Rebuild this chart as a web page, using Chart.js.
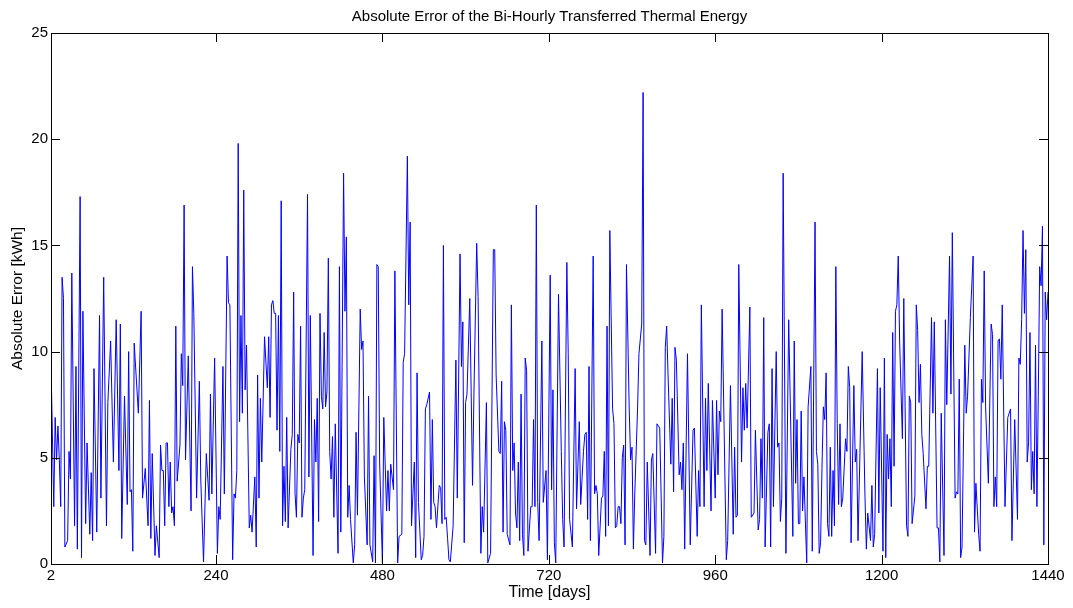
<!DOCTYPE html>
<html>
<head>
<meta charset="utf-8">
<title>Absolute Error of the Bi-Hourly Transferred Thermal Energy</title>
<script src="https://cdn.jsdelivr.net/npm/chart.js@4.4.1/dist/chart.umd.min.js"></script>
<style>
  html, body { margin: 0; padding: 0; background: #fff; }
  #wrap { width: 1073px; height: 608px; }
</style>
</head>
<body>
<div id="wrap"><canvas id="errChart" width="1073" height="608"></canvas></div>
<script>
const chartTitle = 'Absolute Error of the Bi-Hourly Transferred Thermal Energy';
const xLabel = 'Time [days]';
const yLabel = 'Absolute Error [kWh]';

const xTicks = [2, 240, 480, 720, 960, 1200, 1440];
const yTicks = [0, 5, 10, 15, 20, 25];

// time stamps (days), one line per stretch of the record
const days = [
  2, 6, 8, 10, 12, 14, 16, 18, 20, 22, 26, 28, 30, 32, 36, 38, 40, 44, 46, 48, 52, 54, 58, 60, 62, 64, 68, 72, 74, 78, 82, 84, 88, 92, 96, 100, 102, 104, 108, 112, 114, 116, 118, 120, 122, 128,
  132, 134, 138, 142, 144, 146, 148, 152, 154, 158, 160, 162, 164, 166, 168, 170, 172, 174, 176, 178, 180, 182, 184, 188, 190, 192, 194, 196, 200, 204, 206, 208, 212, 216, 218, 222, 226, 230, 232, 234, 238, 242, 244, 246, 250, 252, 256, 258, 260,
  264, 266, 268, 270, 272, 274, 276, 278, 280, 282, 284, 288, 290, 292, 296, 298, 300, 302, 304, 306, 310, 314, 316, 318, 320, 322, 324, 326, 328, 330, 332, 334, 336, 338, 340, 342, 344, 348, 350, 352, 354, 356, 358, 360, 362, 364, 366, 368, 372, 374, 376, 380, 382, 384, 386, 388, 390,
  392, 394, 396, 398, 400, 402, 404, 406, 408, 410, 412, 416, 418, 420, 424, 426, 428, 430, 432, 434, 438, 440, 442, 444, 448, 450, 452, 454, 458, 460, 462, 466, 468, 470, 472, 474, 476, 480, 482, 486, 488, 490, 492, 496, 498, 502, 504, 508, 510, 512, 516, 518, 520,
  522, 526, 528, 530, 532, 536, 538, 540, 542, 544, 548, 550, 552, 554, 556, 558, 562, 564, 566, 568, 570, 572, 574, 576, 578, 582, 586, 588, 592, 594, 596, 598, 600, 602, 606, 610, 612, 616, 618, 622, 624, 626, 630, 632, 636, 640, 642, 644, 648,
  650, 652, 654, 656, 658, 660, 664, 666, 668, 670, 672, 674, 676, 678, 680, 682, 684, 686, 688, 690, 694, 696, 698, 700, 702, 704, 706, 710, 712, 716, 718, 722, 724, 726, 728, 730, 734, 738, 740, 742, 746, 748, 750, 754, 758, 760, 764, 766, 770, 772, 774, 776, 778,
  780, 784, 786, 788, 790, 792, 796, 798, 800, 802, 804, 806, 808, 812, 814, 816, 818, 820, 822, 824, 826, 828, 830, 832, 836, 838, 840, 842, 844, 848, 850, 854, 856, 858, 860, 862, 866, 868, 870, 874, 876, 880, 884, 886, 888, 890, 892, 896, 898, 900, 902, 904, 908,
  910, 912, 914, 916, 920, 924, 928, 930, 934, 936, 938, 940, 944, 946, 948, 950, 954, 956, 960, 962, 964, 966, 968, 970, 976, 978, 982, 986, 988, 990, 992, 994, 998, 1000, 1002, 1004, 1006, 1010, 1012, 1016, 1018, 1022, 1024, 1026, 1028, 1030, 1032, 1036, 1038,
  1040, 1042, 1044, 1048, 1050, 1052, 1054, 1056, 1058, 1062, 1066, 1072, 1074, 1076, 1078, 1080, 1082, 1084, 1086, 1088, 1092, 1094, 1098, 1100, 1104, 1106, 1108, 1110, 1112, 1114, 1116, 1118, 1120, 1122, 1124, 1126, 1128, 1130, 1132, 1134, 1136, 1138, 1140, 1142, 1144, 1148, 1150, 1152, 1154, 1156, 1160, 1162, 1164, 1166,
  1172, 1176, 1178, 1180, 1184, 1186, 1188, 1190, 1194, 1196, 1198, 1202, 1204, 1206, 1208, 1210, 1212, 1214, 1216, 1218, 1220, 1222, 1224, 1226, 1230, 1232, 1236, 1238, 1240, 1242, 1244, 1248, 1250, 1252, 1254, 1256, 1258, 1260, 1264, 1266, 1268, 1272, 1274, 1276, 1280, 1282, 1284, 1286, 1290, 1292, 1294, 1298,
  1300, 1302, 1306, 1308, 1310, 1312, 1314, 1316, 1320, 1322, 1324, 1328, 1332, 1334, 1336, 1340, 1342, 1344, 1346, 1348, 1350, 1354, 1358, 1360, 1362, 1364, 1366, 1368, 1370, 1372, 1374, 1378, 1382, 1386, 1388, 1392, 1396, 1398, 1400, 1402, 1404, 1406, 1408, 1410, 1412, 1414, 1416, 1418, 1420, 1422, 1424, 1426, 1428, 1430, 1432, 1434, 1436, 1438, 1440
];

// absolute error in kWh, same order as days
const absErr = [
  9.5, 2.7, 6.9, 4.9, 6.5, 4.9, 2.7, 13.5, 12.5, 0.8, 1.1, 5.3, 4.0, 13.7, 1.8, 9.3, 0.7, 17.3, 0.3, 11.9, 1.9, 5.7, 1.4, 4.3, 1.1, 9.2, 1.5, 11.7, 3.1, 13.5, 1.8, 7.6, 10.5, 4.8, 11.5, 4.4, 11.3, 1.2, 7.9, 2.8, 10.0, 3.4, 3.5, 0.6, 10.4, 7.1,
  11.9, 3.1, 4.5, 1.8, 7.7, 1.2, 5.2, 0.4, 1.8, 0.3, 5.6, 4.4, 4.4, 1.8, 5.7, 5.7, 2.7, 4.8, 2.4, 2.7, 1.8, 11.2, 3.9, 5.6, 9.9, 8.4, 16.9, 4.9, 9.8, 2.5, 14.0, 11.8, 3.1, 8.6, 4.0, 0.1, 5.2, 3.0, 8.0, 3.3, 9.7, 0.5, 2.7, 2.1, 9.3, 3.3, 14.5, 12.3, 12.2,
  0.2, 3.3, 3.1, 4.4, 19.8, 6.7, 11.7, 7.1, 17.6, 8.2, 10.3, 1.7, 2.3, 1.5, 4.1, 0.8, 8.9, 3.1, 7.8, 4.8, 10.7, 8.3, 10.7, 6.9, 12.2, 12.4, 11.8, 11.8, 6.3, 11.7, 5.3, 17.1, 1.8, 4.6, 2.0, 6.9, 1.7, 5.4, 6.1, 12.8, 3.3, 2.2, 6.1, 5.7, 11.2, 2.2, 3.1, 3.5, 17.4, 4.1, 11.7, 0.4, 6.8, 4.8, 7.8, 2.0, 11.8,
  7.9, 7.3, 10.9, 7.4, 8.1, 14.4, 5.3, 4.0, 6.0, 2.2, 6.6, 0.5, 14.0, 1.5, 18.4, 11.9, 15.4, 2.2, 3.7, 2.1, 0.05, 0.9, 6.2, 2.3, 12.0, 10.1, 10.5, 4.1, 0.9, 7.9, 0.9, 0.1, 5.1, 0.05, 14.1, 14.0, 4.8, 0.05, 6.9, 2.5, 4.4, 2.5, 4.7, 3.5, 13.8, 0.05, 1.3, 1.4, 9.5, 9.9, 19.2, 12.2, 16.1,
  1.8, 4.8, 0.3, 9.0, 2.9, 0.2, 0.4, 1.3, 7.3, 7.5, 8.1, 2.1, 6.8, 2.9, 2.7, 1.7, 3.7, 3.6, 1.9, 15.0, 2.1, 2.2, 1.2, 0.2, 0.1, 1.8, 9.6, 3.1, 14.6, 9.3, 11.4, 1.0, 7.6, 8.0, 12.5, 3.7, 8.0, 15.1, 12.6, 0.5, 2.7, 1.5, 7.6, 0.05, 0.5, 14.8, 14.8, 8.9, 5.3,
  5.2, 8.6, 1.5, 6.7, 6.3, 1.4, 0.9, 12.2, 4.4, 5.7, 2.4, 1.7, 4.8, 1.1, 8.0, 1.4, 0.4, 9.7, 9.1, 0.6, 2.7, 2.7, 6.8, 2.7, 16.9, 2.9, 1.1, 10.5, 2.9, 4.4, 0.2, 13.6, 3.5, 8.2, 1.0, 0.05, 12.7, 5.3, 2.1, 0.8, 14.2, 9.9, 2.1, 0.8, 9.2, 2.6, 6.7, 2.8, 5.3, 6.1, 6.2, 2.1, 9.3,
  1.1, 14.5, 3.3, 3.7, 3.3, 0.4, 3.1, 3.2, 5.3, 1.3, 11.2, 1.8, 15.7, 7.3, 6.6, 1.7, 1.8, 2.7, 2.7, 1.9, 5.0, 5.6, 0.9, 14.1, 7.3, 4.9, 5.5, 0.7, 3.3, 7.3, 9.9, 11.3, 22.2, 1.1, 0.9, 4.8, 0.4, 4.9, 5.2, 0.5, 6.6, 6.4, 0.05, 1.3, 10.2, 11.2, 8.9, 4.7, 7.8, 3.4, 10.2, 9.6, 4.2,
  4.8, 3.5, 5.7, 0.7, 9.9, 0.9, 6.3, 6.4, 1.3, 4.4, 2.7, 12.2, 2.7, 7.8, 4.4, 8.5, 2.5, 7.7, 3.1, 7.7, 4.2, 7.2, 6.7, 12.0, 0.2, 1.1, 8.4, 1.4, 5.5, 2.2, 2.3, 14.1, 4.8, 8.3, 6.3, 8.5, 6.4, 12.1, 2.2, 2.4, 6.3, 1.6, 2.1, 5.9, 3.1, 11.6, 0.8, 6.2, 6.6,
  0.8, 9.2, 2.7, 10.0, 5.5, 5.7, 2.0, 3.1, 18.4, 0.5, 11.5, 1.3, 10.5, 3.8, 6.8, 1.9, 1.9, 7.2, 2.5, 4.1, 0.05, 7.4, 9.3, 0.6, 16.1, 5.3, 4.7, 0.5, 1.0, 4.5, 7.4, 6.8, 9.0, 1.9, 1.3, 5.5, 1.3, 4.4, 1.8, 14.0, 6.6, 2.8, 6.6, 2.7, 3.1, 5.9, 5.3, 9.3, 8.3, 1.0, 8.4, 4.8, 5.4, 1.1,
  10.0, 3.2, 0.7, 2.4, 1.1, 3.7, 0.8, 1.4, 9.2, 2.4, 8.3, 0.6, 9.7, 0.3, 6.1, 4.0, 5.9, 2.7, 10.9, 4.6, 11.9, 12.2, 14.5, 10.5, 5.9, 12.5, 1.8, 1.3, 7.9, 7.6, 1.9, 3.2, 12.2, 11.0, 7.6, 9.4, 6.1, 5.2, 2.6, 4.6, 4.6, 11.6, 7.1, 11.4, 1.7, 1.7, 0.1, 7.1, 0.4, 11.5, 7.5, 14.5,
  8.0, 15.6, 3.1, 3.4, 3.3, 8.7, 0.3, 0.8, 10.3, 7.1, 7.9, 11.6, 14.5, 1.5, 3.8, 1.4, 0.6, 8.7, 7.6, 13.8, 7.4, 3.8, 11.3, 10.8, 2.7, 4.1, 2.7, 10.5, 10.6, 8.7, 12.2, 2.7, 6.9, 7.3, 1.1, 6.8, 2.1, 9.7, 9.4, 11.5, 15.7, 11.8, 14.8, 4.8, 5.7, 10.9, 3.5, 5.3, 3.3, 10.3, 2.7, 7.9, 14.0, 13.1, 15.9, 0.9, 12.8, 11.5, 12.8
];

const fontFamily = "'Liberation Sans', Arial, Helvetica, sans-serif";
Chart.defaults.font.family = fontFamily;
Chart.defaults.color = '#000';

const points = days.map((d, i) => ({ x: d, y: absErr[i] }));

// matlab style axes: closed box with short ticks pointing inwards on all sides
const matlabBox = {
  id: 'matlabBox',
  afterDatasetsDraw(chart) {
    const { ctx, chartArea: area, scales } = chart;
    const len = 9;
    ctx.save();
    ctx.strokeStyle = '#000';
    ctx.lineWidth = 1;
    ctx.beginPath();
    scales.x.ticks.forEach(t => {
      const px = Math.round(scales.x.getPixelForValue(t.value)) + 0.5;
      ctx.moveTo(px, area.bottom);
      ctx.lineTo(px, area.bottom - len);
      ctx.moveTo(px, area.top);
      ctx.lineTo(px, area.top + len);
    });
    scales.y.ticks.forEach(t => {
      const py = Math.round(scales.y.getPixelForValue(t.value)) + 0.5;
      ctx.moveTo(area.left, py);
      ctx.lineTo(area.left + len, py);
      ctx.moveTo(area.right, py);
      ctx.lineTo(area.right - len, py);
    });
    ctx.stroke();
    ctx.strokeRect(Math.round(area.left) + 0.5, Math.round(area.top) + 0.5,
      Math.round(area.width), Math.round(area.height));
    ctx.restore();
  }
};

new Chart(document.getElementById('errChart'), {
  type: 'line',
  data: {
    datasets: [{
      label: yLabel,
      data: points,
      borderColor: '#0000ff',
      borderWidth: 1,
      pointRadius: 0,
      tension: 0,
      fill: false
    }]
  },
  options: {
    responsive: false,
    animation: false,
    layout: { padding: { top: 0, right: 25, bottom: 0, left: 0 } },
    plugins: {
      legend: { display: false },
      tooltip: { enabled: false },
      title: {
        display: true,
        fullSize: false, // centre over the axes, like matlab
        text: chartTitle,
        color: '#000',
        font: { size: 15, weight: 'normal' },
        padding: { top: 8, bottom: 7 }
      }
    },
    scales: {
      x: {
        type: 'linear',
        min: 2,
        max: 1440,
        grid: { display: false, drawTicks: false },
        border: { display: false },
        afterBuildTicks: s => { s.ticks = xTicks.map(v => ({ value: v })); },
        afterFit: s => { s.height = 44; },
        ticks: { autoSkip: false, maxRotation: 0, padding: 3, font: { size: 15 }, callback: v => String(v) },
        title: { display: true, text: xLabel, font: { size: 16 }, padding: { top: 0, bottom: 6 } }
      },
      y: {
        min: 0,
        max: 25,
        grid: { display: false, drawTicks: false },
        border: { display: false },
        afterBuildTicks: s => { s.ticks = yTicks.map(v => ({ value: v })); },
        afterFit: s => { s.width = 51; },
        ticks: { padding: 3, font: { size: 15 }, callback: v => String(v) },
        title: { display: true, text: yLabel, font: { size: 15.5 }, padding: { top: 8, bottom: 0 } }
      }
    }
  },
  plugins: [matlabBox]
});
</script>
</body>
</html>
